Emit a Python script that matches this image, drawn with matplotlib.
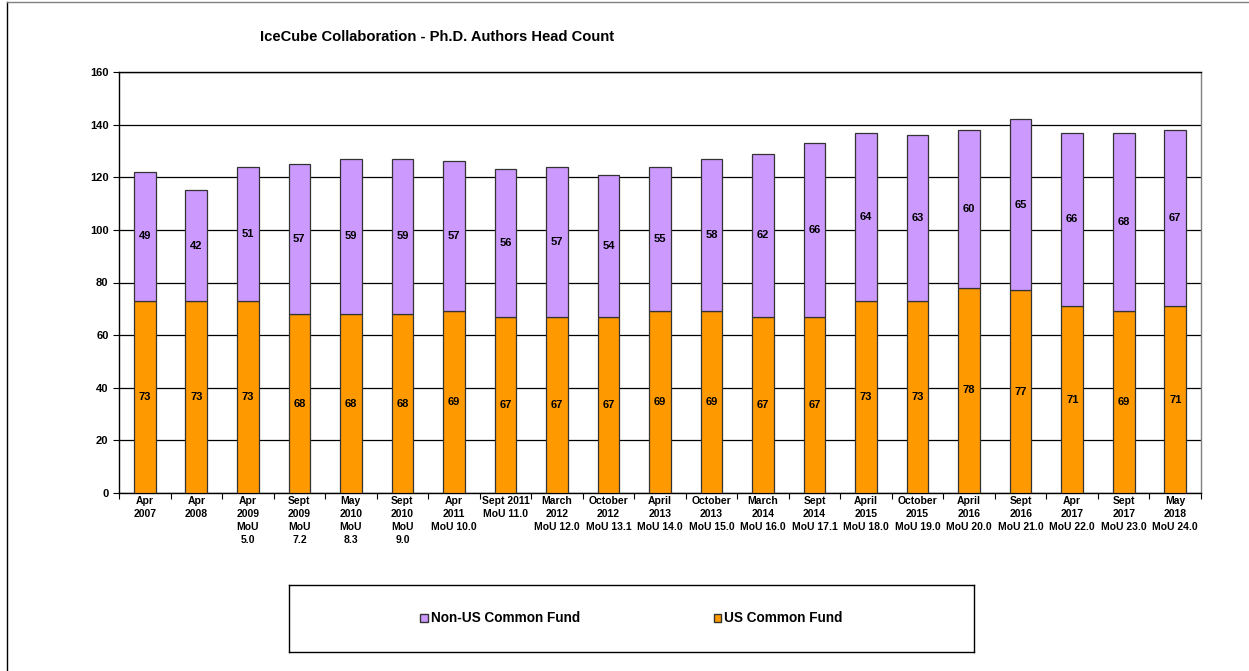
import matplotlib.pyplot as plt
from matplotlib.lines import Line2D
from matplotlib.patches import Patch
import numpy as np

plt.rcParams['font.family'] = ['Liberation Sans', 'DejaVu Sans']
plt.rcParams['font.weight'] = 'bold'

# Data
labels = ['Apr\n2007', 'Apr\n2008', 'Apr\n2009\nMoU\n5.0', 'Sept\n2009\nMoU\n7.2',
          'May\n2010\nMoU\n8.3', 'Sept\n2010\nMoU\n9.0', 'Apr\n2011\nMoU 10.0',
          'Sept 2011\nMoU 11.0', 'March\n2012\nMoU 12.0', 'October\n2012\nMoU 13.1',
          'April\n2013\nMoU 14.0', 'October\n2013\nMoU 15.0', 'March\n2014\nMoU 16.0',
          'Sept\n2014\nMoU 17.1', 'April\n2015\nMoU 18.0', 'October\n2015\nMoU 19.0',
          'April\n2016\nMoU 20.0', 'Sept\n2016\nMoU 21.0', 'Apr\n2017\nMoU 22.0',
          'Sept\n2017\nMoU 23.0', 'May\n2018\nMoU 24.0']
us_fund = [73, 73, 73, 68, 68, 68, 69, 67, 67, 67, 69, 69, 67, 67, 73, 73, 78, 77, 71, 69, 71]
non_us_fund = [49, 42, 51, 57, 59, 59, 57, 56, 57, 54, 55, 58, 62, 66, 64, 63, 60, 65, 66, 68, 67]

purple = '#CC99FF'
orange = '#FF9900'

fig = plt.figure(figsize=(12.49, 6.71), dpi=100)
ax = fig.add_axes([119 / 1249, 1 - 493 / 671, (1201 - 119) / 1249, (493 - 72) / 671])

x = np.arange(len(labels))
w = 0.42
b1 = ax.bar(x, us_fund, w, color=orange, edgecolor='#333333', linewidth=0.9, zorder=3)
b2 = ax.bar(x, non_us_fund, w, bottom=us_fund, color=purple, edgecolor='#333333',
            linewidth=0.9, zorder=3)
ax.bar_label(b1, label_type='center', fontsize=8, fontweight='bold')
ax.bar_label(b2, label_type='center', fontsize=8, fontweight='bold')

ax.set_xlim(-0.5, len(labels) - 0.5)
ax.set_ylim(0, 160)
ax.set_yticks(range(0, 161, 20))
ax.yaxis.grid(True, color='black', linewidth=0.9, zorder=0)
ax.set_axisbelow(True)

ax.set_xticks(x)
ax.set_xticklabels(labels, fontsize=7.5, fontweight='bold', linespacing=1.4)
ax.set_xticks(np.arange(-0.5, len(labels), 1), minor=True)
ax.tick_params(axis='x', which='major', length=0, pad=2)
ax.tick_params(axis='x', which='minor', length=4, width=0.8)
ax.tick_params(axis='y', labelsize=8, length=4, width=0.8)
for t in ax.get_yticklabels():
    t.set_fontweight('bold')

ax.spines['left'].set_color('black')
ax.spines['bottom'].set_color('black')
ax.spines['top'].set_color('black')
ax.spines['right'].set_color('#808080')
for s in ax.spines.values():
    s.set_linewidth(1.0)

fig.text(260 / 1249, 1 - 37 / 671, 'IceCube Collaboration - Ph.D. Authors Head Count',
         fontsize=10.6, fontweight='bold', ha='left', va='center')

# Legend box
lax = fig.add_axes([289 / 1249, 1 - 652 / 671, (974 - 289) / 1249, (652 - 585) / 671])
lax.set_xticks([])
lax.set_yticks([])
for s in lax.spines.values():
    s.set_color('black')
    s.set_linewidth(1.0)
handles = [Patch(facecolor=purple, edgecolor='#333333', label='Non-US Common Fund'),
           Patch(facecolor=orange, edgecolor='#333333', label='US Common Fund')]
lax.legend(handles=handles, loc='center', ncol=2, frameon=False, fontsize=9.8,
           handlelength=0.55, handleheight=0.55, handletextpad=0.25, columnspacing=9.8)

# Outer border
fig.add_artist(Line2D([7 / 1249, 7 / 1249], [0, 1 - 2 / 671], color='black', linewidth=1,
                      transform=fig.transFigure))
fig.add_artist(Line2D([7 / 1249, 1], [1 - 2 / 671, 1 - 2 / 671], color='#808080', linewidth=1,
                      transform=fig.transFigure))

fig.savefig('out.png', dpi=100)
